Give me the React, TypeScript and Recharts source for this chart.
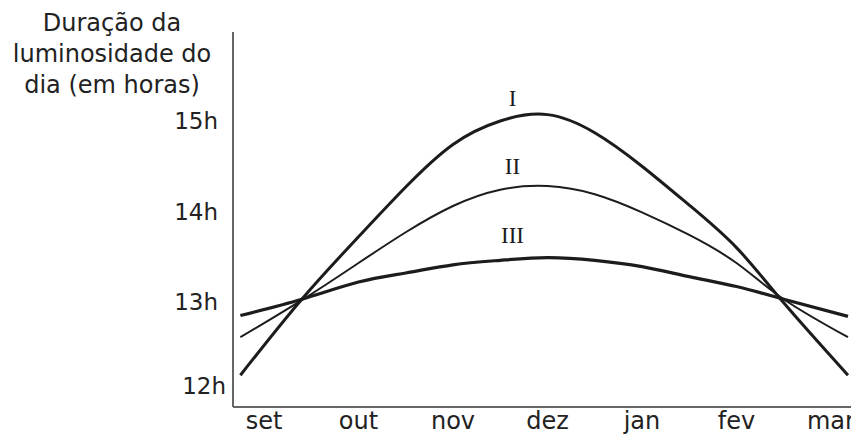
import { LineChart, Line, XAxis, YAxis, ReferenceDot } from "recharts";

// meses no eixo x (set = 0)
const monthLabels = ["set", "out", "nov", "dez", "jan", "fev", "mar"];
const monthTicks = [0, 1, 2, 3, 4, 5, 6];
const hourTicks = [12, 13, 14, 15];

// posições de leitura ao longo do eixo (em meses)
const t = [-0.25, 0.4, 1, 1.5, 2, 2.5, 3, 3.5, 4, 4.5, 5, 5.5, 6.18];
const curveI = [12.19, 13.03, 13.72, 14.27, 14.74, 15.0, 15.07, 14.87, 14.5, 14.07, 13.6, 12.99, 12.19];
const curveII = [12.61, 13.02, 13.43, 13.77, 14.06, 14.24, 14.28, 14.19, 13.99, 13.74, 13.43, 13.03, 12.61];
const curveIII = [12.85, 13.03, 13.22, 13.32, 13.41, 13.46, 13.49, 13.46, 13.39, 13.28, 13.17, 13.03, 12.84];

const curveNames = ["I", "II", "III"];
const labelAt = [
  { x: 2.63, y: 15.25 },
  { x: 2.63, y: 14.5 },
  { x: 2.63, y: 13.74 },
];

const data = t.map((v, i) => ({
  t: v,
  I: curveI[i],
  II: curveII[i],
  III: curveIII[i],
}));

const INK = "#1c1c1c";
const SANS = "'DejaVu Sans', Verdana, sans-serif";

function HourTick(props: any) {
  const { x, y, payload } = props;
  const low = payload.value === 12;
  return (
    <text
      x={x + (low ? 8 : 0)}
      y={y + (low ? -7 : 0)}
      dy="0.36em"
      textAnchor="end"
      fill="#222"
      fontSize={23}
      fontFamily={SANS}
    >
      {payload.value}h
    </text>
  );
}

export default function App() {
  return (
    <div style={{ position: "relative", width: 851, height: 435 }}>
      <style>{"body{margin:0}"}</style>
      <div
        style={{
          position: "absolute",
          left: 0,
          top: 8,
          width: 224,
          textAlign: "center",
          fontFamily: SANS,
          fontSize: 24,
          lineHeight: "31px",
          color: "#222",
        }}
      >
        Duração da
        <br />
        luminosidade do
        <br />
        dia (em horas)
      </div>
      <LineChart
        width={851}
        height={435}
        data={data}
        margin={{ top: 32, right: 0, bottom: 0, left: 0 }}
      >
        <XAxis
          dataKey="t"
          type="number"
          domain={[-0.328, 6.212]}
          allowDataOverflow
          ticks={monthTicks}
          tickFormatter={(v: number) => monthLabels[v]}
          interval={0}
          height={28}
          tickLine={false}
          tickSize={0}
          tickMargin={5}
          axisLine={{ stroke: "#666", strokeWidth: 2 }}
          tick={{ fill: "#222", fontSize: 24, fontFamily: SANS }}
        />
        <YAxis
          type="number"
          domain={[11.839, 15.983]}
          allowDataOverflow
          ticks={hourTicks}
          interval={0}
          width={233}
          tickLine={false}
          tickSize={0}
          tickMargin={15}
          axisLine={{ stroke: "#666", strokeWidth: 2 }}
          tick={<HourTick />}
        />
        <Line type="natural" dataKey="I" stroke={INK} strokeWidth={3} dot={false} isAnimationActive={false} />
        <Line type="natural" dataKey="II" stroke={INK} strokeWidth={2} dot={false} isAnimationActive={false} />
        <Line type="natural" dataKey="III" stroke={INK} strokeWidth={3.2} dot={false} isAnimationActive={false} />
        {curveNames.map((name, i) => (
          <ReferenceDot
            key={name}
            x={labelAt[i].x}
            y={labelAt[i].y}
            r={0}
            fill="none"
            stroke="none"
            label={{
              value: name,
              position: "center",
              fill: INK,
              fontSize: 23,
              fontFamily: "'Liberation Serif', serif",
            }}
          />
        ))}
      </LineChart>
    </div>
  );
}
